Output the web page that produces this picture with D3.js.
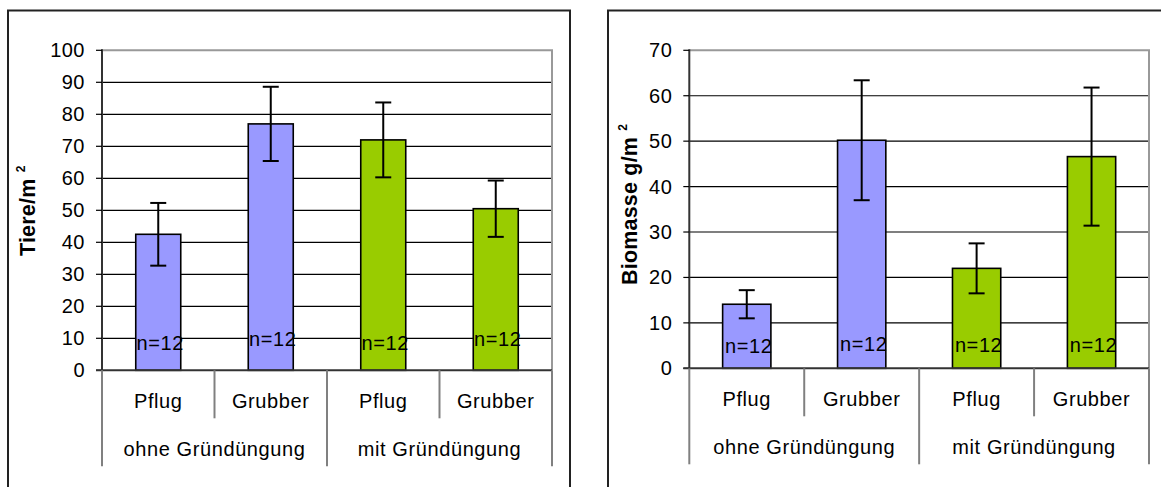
<!DOCTYPE html>
<html>
<head>
<meta charset="utf-8">
<script src="https://cdn.jsdelivr.net/npm/d3@7"></script>
<style>
  body { margin: 0; background: #fff; }
  svg { display: block; font-family: "Liberation Sans", Arial, sans-serif; }
</style>
</head>
<body>
<script>
// categories on the x axis (two levels)
var categories = ["Pflug", "Grubber", "Pflug", "Grubber"];
var groups = ["ohne Gründüngung", "mit Gründüngung"];
var sampleLabels = ["n=12", "n=12", "n=12", "n=12"];

// left chart: animals per m²
var tiereMeans  = [42.5, 77.0, 72.0, 50.5];
var tiereErrors = [9.8, 11.6, 11.7, 8.8];

// right chart: biomass g/m²
var biomasseMeans  = [14.1, 50.2, 22.0, 46.6];
var biomasseErrors = [3.1, 13.2, 5.5, 15.2];

var width = 1161, height = 487;
var blue = "#9999ff", green = "#99cc00";

var svg = d3.select("body")
    .append("svg")
    .attr("width", width)
    .attr("height", height);

function drawChart(cfg) {
    var g = svg.append("g");

    // outer chart frame (bottom runs off the picture)
    g.append("path")
        .attr("d", "M" + cfg.frameLeft + "," + (height + 5) + "V" + cfg.frameTop + "H" + cfg.frameRight + "V" + (height + 5))
        .attr("fill", "none")
        .attr("stroke", "#222")
        .attr("stroke-width", 2);

    var x = d3.scaleBand()
        .domain(d3.range(categories.length))
        .range([cfg.left, cfg.right]);

    var y = d3.scaleLinear()
        .domain([0, cfg.yMax])
        .range([cfg.bottom, cfg.top]);

    var ticks = y.ticks(cfg.yMax / 10);

    // gridlines
    g.selectAll(".grid")
        .data(ticks.filter(function (t) { return t > 0 && t < cfg.yMax; }))
        .enter()
        .append("line")
        .attr("x1", cfg.left).attr("x2", cfg.right)
        .attr("y1", function (d) { return y(d); })
        .attr("y2", function (d) { return y(d); })
        .attr("stroke", "#000")
        .attr("stroke-width", 1.2);

    // plot area border top / right (gray)
    g.append("path")
        .attr("d", "M" + cfg.left + "," + y(cfg.yMax) + "H" + cfg.right + "V" + y(0))
        .attr("fill", "none")
        .attr("stroke", "#999")
        .attr("stroke-width", 2);

    // bars
    var bw = x.bandwidth() * cfg.barFrac;
    g.selectAll(".bar")
        .data(cfg.means)
        .enter()
        .append("rect")
        .attr("x", function (d, i) { return x(i) + (x.bandwidth() - bw) / 2; })
        .attr("y", function (d) { return y(d); })
        .attr("width", bw)
        .attr("height", function (d) { return y(0) - y(d); })
        .attr("fill", function (d, i) { return i < 2 ? blue : green; })
        .attr("stroke", "#000")
        .attr("stroke-width", 1.6);

    // error bars
    var err = g.selectAll(".err")
        .data(cfg.means)
        .enter()
        .append("g")
        .attr("stroke", "#000")
        .attr("stroke-width", 2);
    var cx = function (i) { return x(i) + x.bandwidth() / 2; };
    err.append("line")
        .attr("x1", function (d, i) { return cx(i); })
        .attr("x2", function (d, i) { return cx(i); })
        .attr("y1", function (d, i) { return y(d + cfg.errors[i]); })
        .attr("y2", function (d, i) { return y(d - cfg.errors[i]); });
    err.append("line")
        .attr("x1", function (d, i) { return cx(i) - 8; })
        .attr("x2", function (d, i) { return cx(i) + 8; })
        .attr("y1", function (d, i) { return y(d + cfg.errors[i]); })
        .attr("y2", function (d, i) { return y(d + cfg.errors[i]); });
    err.append("line")
        .attr("x1", function (d, i) { return cx(i) - 8; })
        .attr("x2", function (d, i) { return cx(i) + 8; })
        .attr("y1", function (d, i) { return y(d - cfg.errors[i]); })
        .attr("y2", function (d, i) { return y(d - cfg.errors[i]); });

    // n=12 labels
    g.selectAll(".nlab")
        .data(sampleLabels)
        .enter()
        .append("text")
        .attr("x", function (d, i) { return cx(i) + 2; })
        .attr("y", function (d, i) { return y(0) - cfg.nOffset[i]; })
        .attr("text-anchor", "middle")
        .style("font-size", "20px")
        .style("letter-spacing", "0.6px")
        .text(function (d) { return d; });

    // y axis line
    g.append("line")
        .attr("x1", cfg.left).attr("x2", cfg.left)
        .attr("y1", y(cfg.yMax) - 1).attr("y2", y(0))
        .attr("stroke", "#333")
        .attr("stroke-width", 2);

    // y ticks and labels
    var yt = g.selectAll(".ytick")
        .data(ticks)
        .enter()
        .append("g")
        .attr("transform", function (d) { return "translate(0," + y(d) + ")"; });
    yt.append("line")
        .attr("x1", cfg.left - 6).attr("x2", cfg.left)
        .attr("stroke", "#000")
        .attr("stroke-width", 1.2);
    yt.append("text")
        .attr("x", cfg.left - 17)
        .attr("dy", "0.35em")
        .attr("text-anchor", "end")
        .style("font-size", "20px")
        .style("letter-spacing", "0.5px")
        .text(function (d) { return d; });

    // baseline
    g.append("line")
        .attr("x1", cfg.left - 6).attr("x2", cfg.right)
        .attr("y1", y(0)).attr("y2", y(0))
        .attr("stroke", "#333")
        .attr("stroke-width", 2);

    // category separators below the axis
    var base = y(0);
    g.selectAll(".sep")
        .data(d3.range(categories.length + 1))
        .enter()
        .append("line")
        .attr("x1", function (i) { return i < categories.length ? x(i) : cfg.right; })
        .attr("x2", function (i) { return i < categories.length ? x(i) : cfg.right; })
        .attr("y1", base)
        .attr("y2", function (i) { return base + (i % 2 === 0 ? 96 : 48); })
        .attr("stroke", "#808080")
        .attr("stroke-width", 2);

    g.selectAll(".cat")
        .data(categories)
        .enter()
        .append("text")
        .attr("x", function (d, i) { return cx(i); })
        .attr("y", base + 37.5)
        .attr("text-anchor", "middle")
        .style("font-size", "20px")
        .style("letter-spacing", "0.6px")
        .text(function (d) { return d; });

    g.selectAll(".grp")
        .data(groups)
        .enter()
        .append("text")
        .attr("x", function (d, i) { return x(i * 2) + x.bandwidth(); })
        .attr("y", base + 86)
        .attr("text-anchor", "middle")
        .style("font-size", "20px")
        .style("letter-spacing", "0.6px")
        .text(function (d) { return d; });

    // y axis title with superscript 2
    var title = g.append("text")
        .attr("transform", "translate(" + cfg.titleX + "," + cfg.titleY + ") rotate(-90)")
        .attr("text-anchor", "start")
        .style("font-size", "21.5px")
        .style("font-weight", "bold")
        .style("letter-spacing", "0.2px");
    title.append("tspan").text(cfg.title + " ");
    title.append("tspan")
        .attr("dy", -10)
        .style("font-size", "12px")
        .text("2");
}

drawChart({
    frameLeft: 8, frameTop: 10.5, frameRight: 570,
    left: 102, right: 552, top: 50.3, bottom: 370.3,
    yMax: 100, barFrac: 0.4,
    means: tiereMeans, errors: tiereErrors,
    nOffset: [20, 24, 20, 24],
    title: "Tiere/m", titleX: 35, titleY: 256
});

drawChart({
    frameLeft: 608, frameTop: 10.5, frameRight: 1170,
    left: 689.3, right: 1149, top: 50.3, bottom: 368.3,
    yMax: 70, barFrac: 0.42,
    means: biomasseMeans, errors: biomasseErrors,
    nOffset: [15, 17, 16, 16],
    title: "Biomasse g/m", titleX: 637, titleY: 285
});
</script>
</body>
</html>
